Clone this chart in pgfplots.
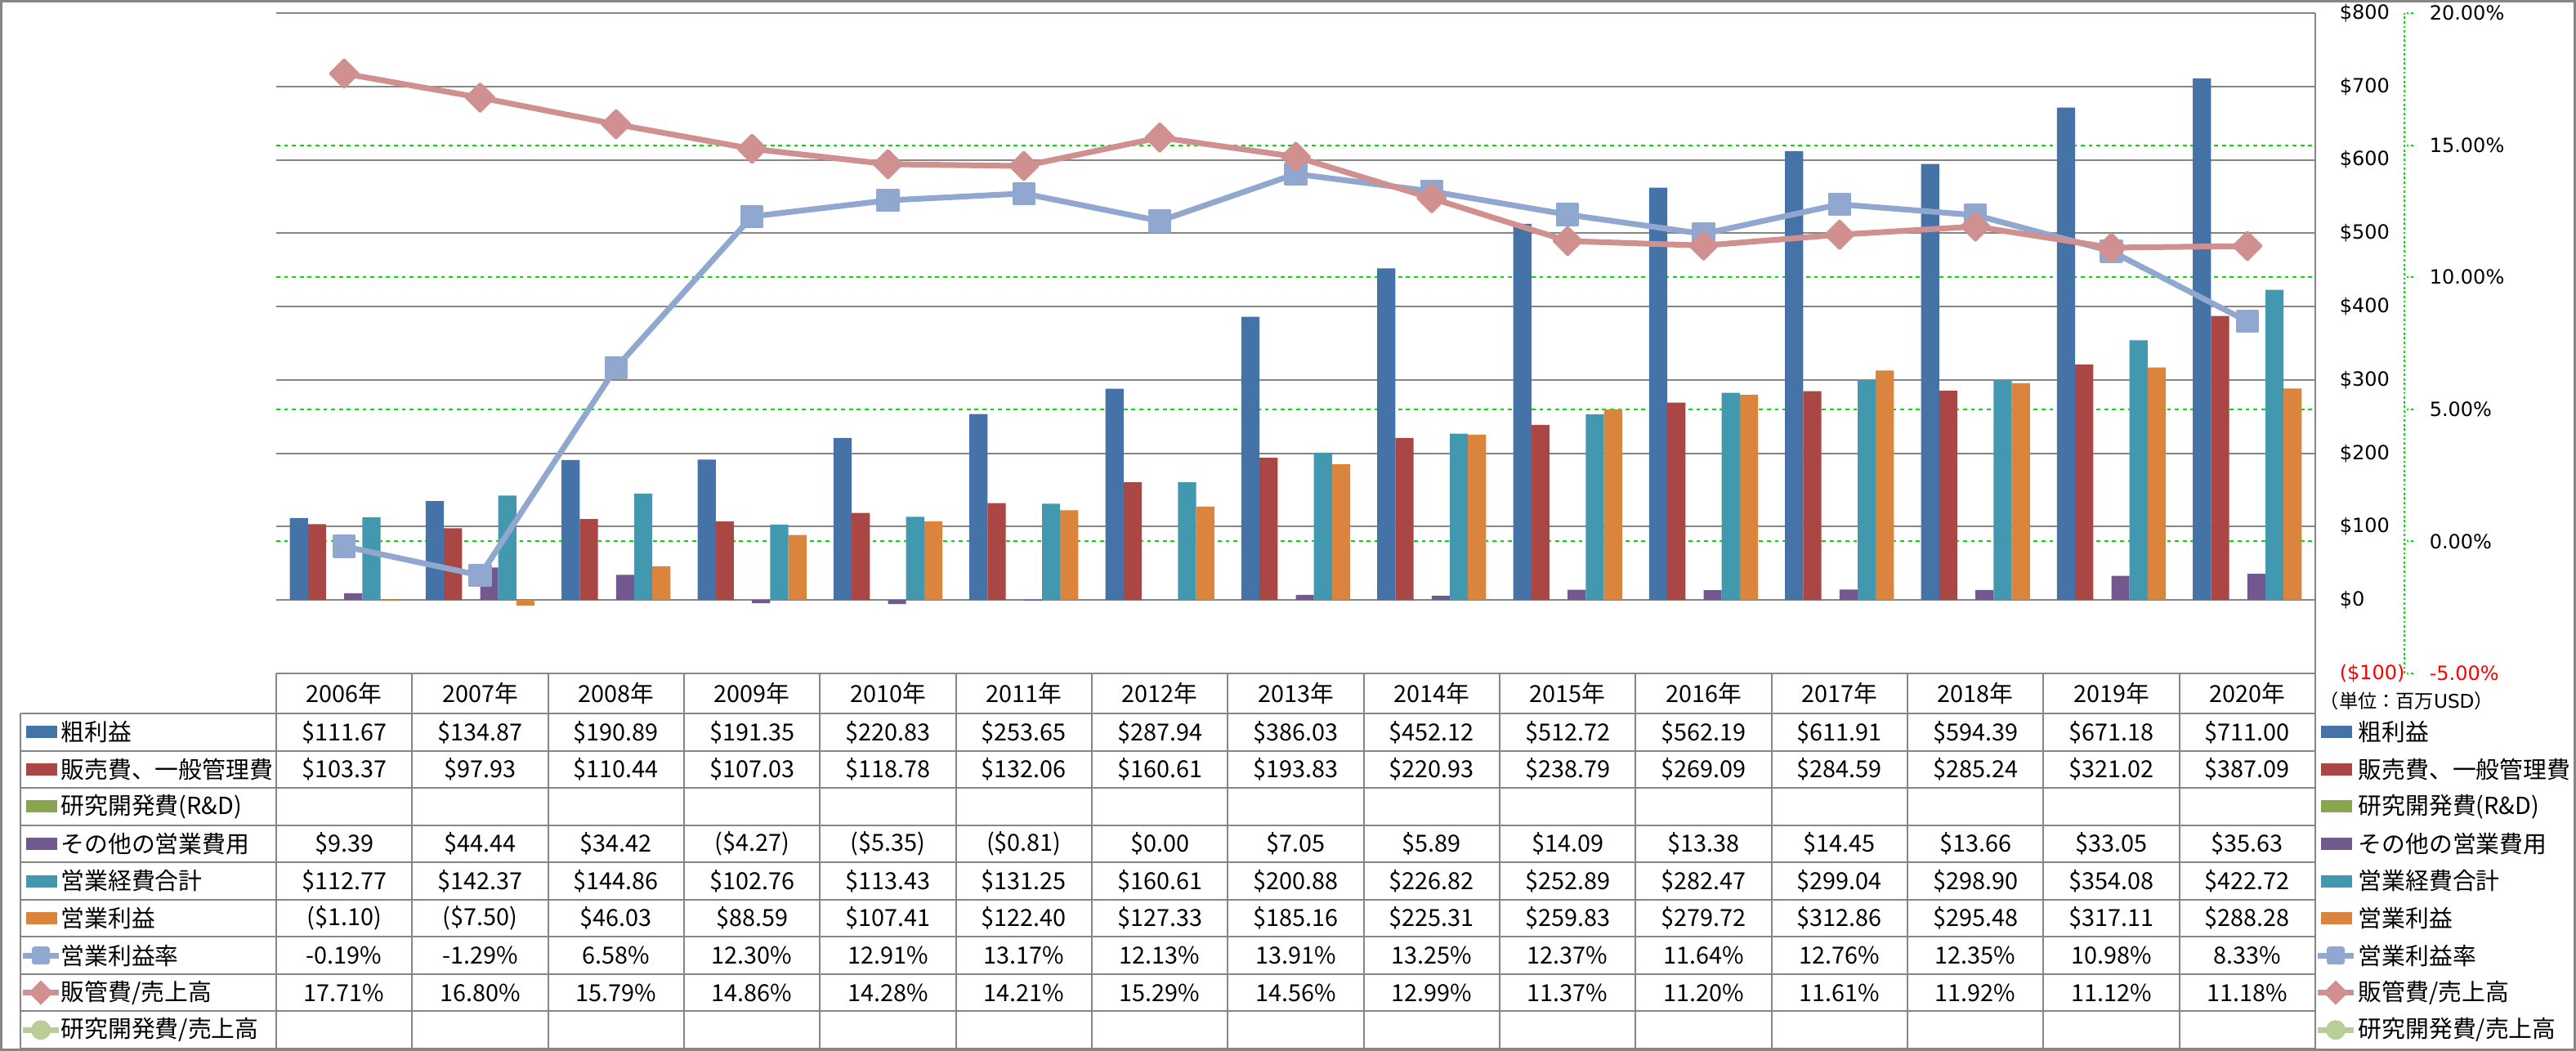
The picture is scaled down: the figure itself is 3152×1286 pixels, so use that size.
\documentclass[border=0pt]{standalone}
\usepackage{fontspec}
\usepackage{pgfplots}
\usepackage{pgfplotstable}
\pgfplotsset{compat=1.18}
\setmainfont{Noto Sans CJK JP}
\newfontfamily\dv{DejaVu Sans}
\definecolor{cBlue}{HTML}{4572A7}
\definecolor{cRed}{HTML}{AA4643}
\definecolor{cGreen}{HTML}{89A54E}
\definecolor{cPurple}{HTML}{71588F}
\definecolor{cTeal}{HTML}{4198AF}
\definecolor{cOrange}{HTML}{DB843D}
\definecolor{cLBlue}{HTML}{90A8CF}
\definecolor{cPink}{HTML}{CF908F}
\definecolor{cLGreen}{HTML}{B9CD96}
\definecolor{gridgray}{HTML}{868686}
\definecolor{lime}{HTML}{00E000}

\pgfplotstableread{
i gp sga oth opx opi opr sgr
0 111.67 103.37 9.39 112.77 -1.10 -0.19 17.71
1 134.87 97.93 44.44 142.37 -7.50 -1.29 16.80
2 190.89 110.44 34.42 144.86 46.03 6.58 15.79
3 191.35 107.03 -4.27 102.76 88.59 12.30 14.86
4 220.83 118.78 -5.35 113.43 107.41 12.91 14.28
5 253.65 132.06 -0.81 131.25 122.40 13.17 14.21
6 287.94 160.61 0.00 160.61 127.33 12.13 15.29
7 386.03 193.83 7.05 200.88 185.16 13.91 14.56
8 452.12 220.93 5.89 226.82 225.31 13.25 12.99
9 512.72 238.79 14.09 252.89 259.83 12.37 11.37
10 562.19 269.09 13.38 282.47 279.72 11.64 11.20
11 611.91 284.59 14.45 299.04 312.86 12.76 11.61
12 594.39 285.24 13.66 298.90 295.48 12.35 11.92
13 671.18 321.02 33.05 354.08 317.11 10.98 11.12
14 711.00 387.09 35.63 422.72 288.28 8.33 11.18
}\data

\newcommand\tabrow[2]{%
  \foreach \v [count=\k from 0] in {#2} {%
    \node[tabtxt] at ({338+166.333*(\k+0.5)},#1) {\v};}}
\newcommand\rectkey[3]{\fill[#3] ({#1},{#2-7.5}) rectangle ({#1+38},{#2+7.5});}

\begin{document}
\begin{tikzpicture}[tabtxt/.style={font=\fontsize{7.2}{8}\selectfont, inner sep=0pt, anchor=center},
  leg/.style={font=\fontsize{7.2}{8}\selectfont, inner sep=0pt, anchor=west}]
\begin{scope}[x=0.25pt,y=-0.25pt]
\useasboundingbox (0,0) rectangle (3152,1286);
\fill[white] (0,0) rectangle (3152,1286);
\end{scope}

\begin{axis}[
  at={(84.5pt,-206pt)}, anchor=south west,
  width=623.75pt, height=202pt, scale only axis,
  xmin=-0.5, xmax=14.5, ymin=-100, ymax=800,
  axis x line=none,
  axis y line*=right,
  axis line style={-, draw=gridgray, line width=0.5pt},
  ytick={-100,0,100,200,300,400,500,600,700,800},
  yticklabels={{\textcolor{red}{(\$100)}},\$0,\$100,\$200,\$300,\$400,\$500,\$600,\$700,\$800},
  yticklabel style={font=\dv\fontsize{6}{7}\selectfont, anchor=west, inner sep=0pt, xshift=7.25pt},
  major tick length=0pt,
  ymajorgrids, major grid style={draw=gridgray, line width=0.5pt},
  extra y ticks={80,260,440,620},
  extra y tick style={yticklabel={}, ymajorgrids=true, major grid style={draw=lime, line width=0.5pt, dash pattern=on 1.2pt off 1.2pt}},
  ybar, bar width=5.55pt,
  clip=false,
]
\addplot[fill=cBlue, draw=none, bar shift=-13.875pt] table[x=i,y=gp]{\data};
\addplot[fill=cRed, draw=none, bar shift=-8.325pt] table[x=i,y=sga]{\data};
\addplot[fill=cPurple, draw=none, bar shift=2.775pt] table[x=i,y=oth]{\data};
\addplot[fill=cTeal, draw=none, bar shift=8.325pt] table[x=i,y=opx]{\data};
\addplot[fill=cOrange, draw=none, bar shift=13.875pt] table[x=i,y=opi]{\data};
\end{axis}

\begin{axis}[
  at={(84.5pt,-206pt)}, anchor=south west,
  width=623.75pt, height=202pt, scale only axis,
  xmin=-0.5, xmax=14.5, ymin=-5, ymax=20,
  axis x line=none,
  axis y line*=right,
  axis y line shift=27.25pt,
  axis line style={-, draw=lime, line width=0.5pt, dash pattern=on 0.7pt off 0.7pt},
  ytick={-5,0,5,10,15,20},
  yticklabels={{\textcolor{red}{-5.00\%}},0.00\%,5.00\%,10.00\%,15.00\%,20.00\%},
  yticklabel style={font=\dv\fontsize{6}{7}\selectfont, anchor=west, inner sep=0pt, xshift=4.75pt},
  tick align=outside, major tick length=2.75pt,
  ytick style={draw=lime, line width=0.5pt, dash pattern=on 0.7pt off 0.7pt},
  clip=false,
]
\addplot[color=cLBlue, line width=1.75pt, line join=round, mark=square*, mark size=3.25pt,
  mark options={solid, fill=cLBlue, draw=cLBlue, line width=0.6pt, line join=round}] table[x=i,y=opr]{\data};
\addplot[color=cPink, line width=1.75pt, line join=round, mark=square*, mark size=3.0pt,
  mark options={solid, rotate=45, fill=cPink, draw=cPink, line width=0.8pt, line join=round}] table[x=i,y=sgr]{\data};
\end{axis}

\begin{scope}[x=0.25pt,y=-0.25pt]
% table grid
\draw[gridgray, line width=0.5pt] (338,824) -- (2833,824);
\foreach \r in {0,...,9} {\draw[gridgray, line width=0.5pt] (25,{873+45.556*\r}) -- (2833,{873+45.556*\r});}
\draw[gridgray, line width=0.5pt] (25,873) -- (25,1283);
\foreach \c in {0,...,15} {\draw[gridgray, line width=0.5pt] ({338+166.333*\c},824) -- ({338+166.333*\c},1283);}
% header and values
\tabrow{848.5}{2006年,2007年,2008年,2009年,2010年,2011年,2012年,2013年,2014年,2015年,2016年,2017年,2018年,2019年,2020年}
\tabrow{895.8}{\$111.67,\$134.87,\$190.89,\$191.35,\$220.83,\$253.65,\$287.94,\$386.03,\$452.12,\$512.72,\$562.19,\$611.91,\$594.39,\$671.18,\$711.00}
\tabrow{941.3}{\$103.37,\$97.93,\$110.44,\$107.03,\$118.78,\$132.06,\$160.61,\$193.83,\$220.93,\$238.79,\$269.09,\$284.59,\$285.24,\$321.02,\$387.09}
\tabrow{1032.5}{\$9.39,\$44.44,\$34.42,{(\$4.27)},{(\$5.35)},{(\$0.81)},\$0.00,\$7.05,\$5.89,\$14.09,\$13.38,\$14.45,\$13.66,\$33.05,\$35.63}
\tabrow{1078.0}{\$112.77,\$142.37,\$144.86,\$102.76,\$113.43,\$131.25,\$160.61,\$200.88,\$226.82,\$252.89,\$282.47,\$299.04,\$298.90,\$354.08,\$422.72}
\tabrow{1123.6}{{(\$1.10)},{(\$7.50)},\$46.03,\$88.59,\$107.41,\$122.40,\$127.33,\$185.16,\$225.31,\$259.83,\$279.72,\$312.86,\$295.48,\$317.11,\$288.28}
\tabrow{1169.2}{-0.19\%,-1.29\%,6.58\%,12.30\%,12.91\%,13.17\%,12.13\%,13.91\%,13.25\%,12.37\%,11.64\%,12.76\%,12.35\%,10.98\%,8.33\%}
\tabrow{1214.7}{17.71\%,16.80\%,15.79\%,14.86\%,14.28\%,14.21\%,15.29\%,14.56\%,12.99\%,11.37\%,11.20\%,11.61\%,11.92\%,11.12\%,11.18\%}
% legend keys (left in table, right beside table)
\foreach \X/\T in {32/74, 2840/2885} {
  \rectkey{\X}{895.8}{cBlue}
  \rectkey{\X}{941.3}{cRed}
  \rectkey{\X}{986.9}{cGreen}
  \rectkey{\X}{1032.5}{cPurple}
  \rectkey{\X}{1078.0}{cTeal}
  \rectkey{\X}{1123.6}{cOrange}
  \draw[cLBlue, line width=1.75pt] ({\X-4},1169.2) -- ++(44,0);
  \fill[cLBlue, rounded corners=0.8pt] ({\X+18-11},{1169.2-11}) rectangle ({\X+18+11},{1169.2+11});
  \draw[cPink, line width=1.75pt] ({\X-4},1214.7) -- ++(44,0);
  \fill[cPink] ({\X+18},{1214.7-15}) -- ({\X+18+15},1214.7) -- ({\X+18},{1214.7+15}) -- ({\X+18-15},1214.7) -- cycle;
  \draw[cLGreen, line width=1.75pt] ({\X-4},1260.3) -- ++(44,0);
  \fill[cLGreen] ({\X+18},1260.3) circle [radius=12];
  \node[leg] at (\T,895.8) {粗利益};
  \node[leg] at (\T,941.3) {販売費、一般管理費};
  \node[leg] at (\T,986.9) {研究開発費(R\&D)};
  \node[leg] at (\T,1032.5) {その他の営業費用};
  \node[leg] at (\T,1078.0) {営業経費合計};
  \node[leg] at (\T,1123.6) {営業利益};
  \node[leg] at (\T,1169.2) {営業利益率};
  \node[leg] at (\T,1214.7) {販管費/売上高};
  \node[leg] at (\T,1260.3) {研究開発費/売上高};
}
\node[anchor=west, inner sep=0pt, font=\fontsize{5.8}{6}\selectfont] at (2838,858) {（単位：百万{\dv USD}）};
% outer border
\draw[gridgray, line width=0.75pt] (1.5,1.5) rectangle (3150.5,1284.5);
\end{scope}
\end{tikzpicture}
\end{document}
